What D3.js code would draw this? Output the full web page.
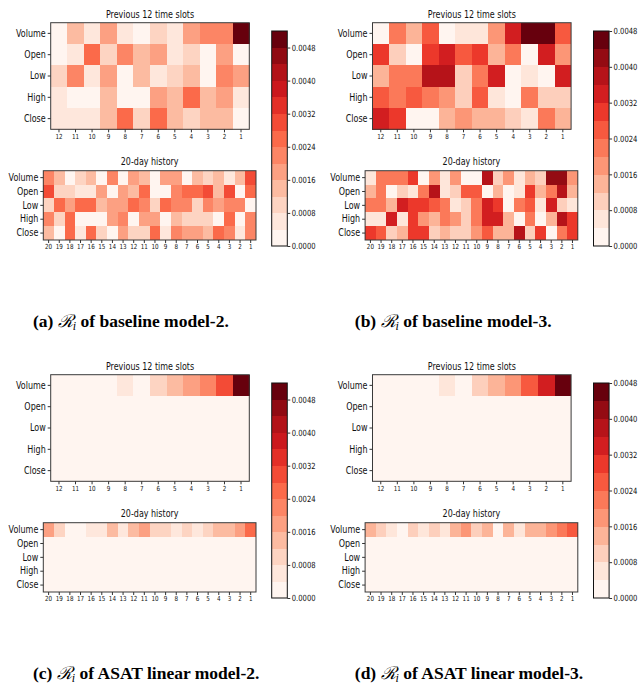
<!DOCTYPE html>
<html><head><meta charset="utf-8">
<script src="https://cdn.jsdelivr.net/npm/d3@7"></script>
<style>body{margin:0;background:#fff}svg{display:block}</style>
</head><body><svg id="chart" width="639" height="685"></svg>
<script>
const features = ["Volume","Open","Low","High","Close"];
const slotLabels = ["12","11","10","9","8","7","6","5","4","3","2","1"];
const dayLabels = ["20","19","18","17","16","15","14","13","12","11","10","9","8","7","6","5","4","3","2","1"];
const colorbarTicks = [0,0.0008,0.0016,0.0024,0.0032,0.0040,0.0048];
const captions = [
  {label:"(a) ", rest:" of baseline model-2."},
  {label:"(b) ", rest:" of baseline model-3."},
  {label:"(c) ", rest:" of ASAT linear model-2."},
  {label:"(d) ", rest:" of ASAT linear model-3."}
];

// (a) baseline model-2
const aSlots = [
  [.0002,.0014,.0006,.0018,.0006,.0002,.0010,.0006,.0018,.0022,.0022,.0050],
  [.0002,.0006,.0026,.0010,.0022,.0014,.0018,.0006,.0010,.0002,.0018,.0002],
  [.0010,.0022,.0006,.0018,.0002,.0014,.0006,.0010,.0014,.0002,.0022,.0018],
  [.0006,.0002,.0002,.0014,.0002,.0002,.0018,.0014,.0026,.0014,.0018,.0006],
  [.0006,.0006,.0006,.0014,.0026,.0010,.0026,.0014,.0010,.0014,.0014,.0002]
];
const aDays = [
  [.0022,.0014,.0002,.0010,.0014,.0002,.0022,.0002,.0018,.0014,.0002,.0018,.0018,.0002,.0014,.0010,.0014,.0006,.0014,.0030],
  [.0030,.0010,.0010,.0006,.0006,.0018,.0002,.0018,.0014,.0026,.0002,.0002,.0022,.0026,.0026,.0030,.0014,.0030,.0002,.0026],
  [.0010,.0026,.0018,.0026,.0026,.0014,.0018,.0018,.0026,.0022,.0010,.0026,.0022,.0022,.0010,.0022,.0018,.0022,.0022,.0002],
  [.0022,.0010,.0026,.0002,.0002,.0002,.0018,.0022,.0002,.0018,.0018,.0002,.0014,.0010,.0010,.0010,.0002,.0026,.0002,.0022],
  [.0014,.0002,.0026,.0006,.0026,.0010,.0002,.0018,.0010,.0010,.0026,.0006,.0022,.0018,.0018,.0014,.0026,.0022,.0006,.0022]
];
// (b) baseline model-3
const bSlots = [
  [.0002,.0022,.0014,.0026,.0002,.0006,.0006,.0018,.0034,.0046,.0046,.0026],
  [.0030,.0010,.0002,.0030,.0034,.0026,.0030,.0014,.0022,.0002,.0034,.0018],
  [.0014,.0022,.0022,.0038,.0038,.0010,.0022,.0034,.0002,.0006,.0002,.0034],
  [.0026,.0022,.0026,.0022,.0018,.0010,.0026,.0006,.0002,.0022,.0010,.0010],
  [.0034,.0030,.0002,.0002,.0014,.0018,.0014,.0014,.0010,.0006,.0022,.0014]
];
const bDays = [
  [.0006,.0022,.0022,.0022,.0030,.0002,.0018,.0006,.0018,.0002,.0002,.0038,.0010,.0018,.0006,.0014,.0010,.0042,.0042,.0018],
  [.0014,.0022,.0002,.0010,.0006,.0022,.0038,.0006,.0010,.0026,.0026,.0002,.0014,.0002,.0006,.0030,.0014,.0022,.0038,.0014],
  [.0022,.0022,.0014,.0034,.0030,.0030,.0026,.0022,.0006,.0010,.0022,.0034,.0030,.0002,.0022,.0026,.0006,.0034,.0010,.0006],
  [.0006,.0006,.0034,.0006,.0030,.0018,.0014,.0022,.0018,.0010,.0022,.0034,.0034,.0014,.0002,.0022,.0002,.0014,.0038,.0030],
  [.0030,.0026,.0010,.0014,.0030,.0030,.0010,.0014,.0010,.0010,.0018,.0026,.0014,.0014,.0038,.0010,.0030,.0002,.0022,.0030]
];
// (c) ASAT linear model-2
const cSlots = [
  [0,0,0,0,.0006,0,.0010,.0014,.0018,.0022,.0030,.0050],
  [0,0,0,0,0,0,0,0,0,0,0,0],
  [0,0,0,0,0,0,0,0,0,0,0,0],
  [0,0,0,0,0,0,0,0,0,0,0,0],
  [0,0,0,0,0,0,0,0,0,0,0,0]
];
const cDays = [
  [.0018,.0010,0,0,.0006,.0006,.0014,.0006,.0014,.0018,.0010,.0010,.0006,.0010,.0006,.0010,.0014,.0014,.0018,.0026],
  [0,0,0,0,0,0,0,0,0,0,0,0,0,0,0,0,0,0,0,0],
  [0,0,0,0,0,0,0,0,0,0,0,0,0,0,0,0,0,0,0,0],
  [0,0,0,0,0,0,0,0,0,0,0,0,0,0,0,0,0,0,0,0],
  [0,0,0,0,0,0,0,0,0,0,0,0,0,0,0,0,0,0,0,0]
];
// (d) ASAT linear model-3
const dSlots = [
  [0,0,0,0,.0006,0,.0010,.0014,.0018,.0026,.0034,.0046],
  [0,0,0,0,0,0,0,0,0,0,0,0],
  [0,0,0,0,0,0,0,0,0,0,0,0],
  [0,0,0,0,0,0,0,0,0,0,0,0],
  [0,0,0,0,0,0,0,0,0,0,0,0]
];
const dDays = [
  [.0014,.0010,.0006,0,.0010,.0006,.0010,.0006,.0014,.0018,.0010,.0014,0,.0014,.0006,.0014,.0014,.0018,.0022,.0026],
  [0,0,0,0,0,0,0,0,0,0,0,0,0,0,0,0,0,0,0,0],
  [0,0,0,0,0,0,0,0,0,0,0,0,0,0,0,0,0,0,0,0],
  [0,0,0,0,0,0,0,0,0,0,0,0,0,0,0,0,0,0,0,0],
  [0,0,0,0,0,0,0,0,0,0,0,0,0,0,0,0,0,0,0,0]
];
const colorbarMax = [0.0052, 0.0048, 0.0052, 0.0048];
const binStep = 0.0004;

const redsStops = ["#fff5f0","#fee0d2","#fcbba1","#fc9272","#fb6a4a","#ef3b2c","#cb181d","#a50f15","#67000d"];
const reds = d3.piecewise(d3.interpolateRgb, redsStops);

const panels = [
  {slots:aSlots, days:aDays, max:colorbarMax[0], cap:captions[0], ox:0, oy:0},
  {slots:bSlots, days:bDays, max:colorbarMax[1], cap:captions[1], ox:321.8, oy:0},
  {slots:cSlots, days:cDays, max:colorbarMax[2], cap:captions[2], ox:0, oy:352},
  {slots:dSlots, days:dDays, max:colorbarMax[3], cap:captions[3], ox:321.8, oy:352}
];

const SX = 0.8;
const svg = d3.select("#chart");
const FONT = "DejaVu Sans, sans-serif";

function squeeze(sel){
  sel.selectAll("text").each(function(){
    const t = d3.select(this);
    const x = +(t.attr("x")||0);
    t.attr("x", x/SX).attr("transform", `scale(${SX},1)`);
  });
}

function heatmap(g, data, cols, x0, x1, y0, y1, color, title, titleY, rowFont, colFont){
  const xs = d3.scaleBand().domain(cols).range([x0,x1]);
  const ys = d3.scaleBand().domain(features).range([y0,y1]);
  const cells = [];
  data.forEach((row,i)=>row.forEach((v,j)=>cells.push({r:features[i], c:cols[j], v})));
  g.append("g").selectAll("rect").data(cells).join("rect")
    .attr("x",d=>xs(d.c)).attr("y",d=>ys(d.r))
    .attr("width",xs.bandwidth()+0.4).attr("height",ys.bandwidth()+0.4)
    .attr("fill",d=>color(d.v)).attr("shape-rendering","crispEdges");
  g.append("rect").attr("x",x0).attr("y",y0).attr("width",x1-x0).attr("height",y1-y0)
    .attr("fill","none").attr("stroke","#3a3a3a").attr("stroke-width",1);
  const ay = g.append("g").attr("transform",`translate(${x0},0)`)
    .call(d3.axisLeft(ys).tickSize(3).tickPadding(2));
  ay.select(".domain").remove();
  ay.selectAll("line").attr("stroke","#333");
  ay.selectAll("text").attr("font-family",FONT).attr("font-size",rowFont).attr("fill","#111");
  squeeze(ay);
  const ax = g.append("g").attr("transform",`translate(0,${y1})`)
    .call(d3.axisBottom(xs).tickSize(3).tickPadding(1.5));
  ax.select(".domain").remove();
  ax.selectAll("line").attr("stroke","#333");
  ax.selectAll("text").attr("font-family",FONT).attr("font-size",colFont).attr("fill","#111");
  squeeze(ax);
  g.append("text").attr("transform",`translate(${(x0+x1)/2},${titleY}) scale(${SX},1)`)
    .attr("text-anchor","middle").attr("font-family",FONT).attr("font-size",10).attr("fill","#111")
    .text(title);
}

panels.forEach(p=>{
  const g = svg.append("g").attr("transform",`translate(${p.ox},${p.oy})`);
  const nBins = Math.round(p.max/binStep);
  const binColors = d3.range(nBins).map(i=>reds(i/(nBins-1)));
  const color = d3.scaleQuantize().domain([0,p.max]).range(binColors);

  heatmap(g, p.slots, slotLabels, 50.7, 249.3, 22.7, 129.3, color, "Previous 12 time slots", 17.5, 10, 7);
  heatmap(g, p.days, dayLabels, 43.3, 256, 170.7, 240, color, "20-day history", 165, 10, 7);

  // colorbar
  const cy = d3.scaleLinear().domain([0,p.max]).range([246,31]);
  const cb = g.append("g");
  cb.selectAll("rect").data(binColors).join("rect")
    .attr("x",271.7).attr("width",15.6)
    .attr("y",(d,i)=>cy((i+1)*binStep)).attr("height",(d,i)=>cy(i*binStep)-cy((i+1)*binStep)+0.3)
    .attr("fill",d=>d).attr("shape-rendering","crispEdges");
  cb.append("rect").attr("x",271.7).attr("y",31).attr("width",15.6).attr("height",215)
    .attr("fill","none").attr("stroke","#111").attr("stroke-width",1);
  const ca = cb.append("g").attr("transform","translate(287.3,0)")
    .call(d3.axisRight(cy).tickValues(colorbarTicks).tickFormat(d3.format(".4f")).tickSize(3).tickPadding(1.5));
  ca.select(".domain").remove();
  ca.selectAll("line").attr("stroke","#333");
  ca.selectAll("text").attr("font-family",FONT).attr("font-size",8.5).attr("fill","#111");
  squeeze(ca);

  // caption
  const t = g.append("text").attr("x",33).attr("y",326.5)
    .attr("font-family","Liberation Serif, serif").attr("font-weight","bold").attr("font-size",17.5).attr("fill","#000");
  t.append("tspan").text(p.cap.label);
  t.append("tspan").attr("font-weight","normal").attr("font-style","italic").text("\u211B");
  t.append("tspan").attr("font-style","italic").attr("font-weight","normal").attr("font-size",12).attr("dy",3).text("i");
  t.append("tspan").attr("dy",-3).text(p.cap.rest);
});
</script></body></html>
